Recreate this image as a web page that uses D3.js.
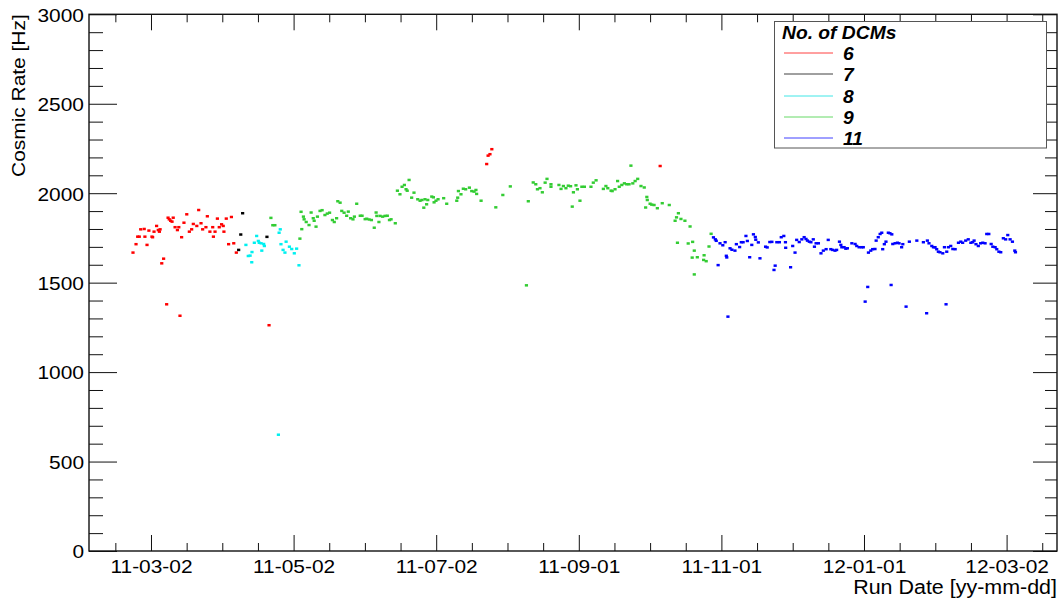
<!DOCTYPE html>
<html>
<head>
<meta charset="utf-8">
<script src="https://cdn.jsdelivr.net/npm/d3@7"></script>
<style>
  html, body { margin: 0; padding: 0; background: #fff; }
  svg { display: block; font-family: "Liberation Sans", Arial, Helvetica, sans-serif; }
</style>
</head>
<body>
<svg id="chart" width="1064" height="600"></svg>
<script>
// Run day is counted in days from 2011-01-01 (UTC); rate is the cosmic rate in Hz.

// 6 DCMs
const dcm6Day = [
  52.3, 53.6, 54.3, 55.0, 55.6, 57.1, 57.4, 58.3, 59.1, 60.4,
  60.7, 61.3, 62.4, 63.1, 63.6, 63.9, 64.6, 65.4, 66.7, 67.3,
  67.8, 68.4, 69.0, 69.5, 70.3, 71.3, 71.9, 72.4, 73.1, 74.1,
  75.3, 76.4, 77.4, 78.1, 79.6, 80.4, 81.4, 82.1, 83.5, 84.1,
  85.2, 86.4, 86.7, 87.4, 88.4, 89.2, 90.2, 90.9, 91.2, 92.2,
  93.2, 94.4, 95.4, 96.5, 110.5, 203.6, 204.2, 205.0, 205.8, 277.8
];
const dcm6Rate = [
  1668, 1715, 1757, 1757, 1798, 1800, 1757, 1711, 1791, 1757,
  1754, 1785, 1817, 1794, 1785, 1798, 1608, 1634, 1379, 1863,
  1854, 1846, 1841, 1863, 1810, 1794, 1810, 1315, 1754, 1835,
  1882, 1785, 1798, 1828, 1817, 1906, 1832, 1798, 1810, 1871,
  1785, 1810, 1757, 1785, 1858, 1810, 1826, 1817, 1785, 1858,
  1715, 1867, 1720, 1668, 1262, 2163, 2210, 2218, 2246, 2152
];

// 7 DCMs
const dcm7Day  = [97.5, 98.4, 99.2, 109.6];
const dcm7Rate = [1683, 1769, 1888, 1756];

// 8 DCMs
const dcm8Day = [
  100.6, 101.6, 102.4, 103.1, 103.2, 104.2, 105.2, 105.9, 106.3, 107.1,
  107.4, 108.2, 108.5, 114.5, 114.8, 115.3, 115.6, 116.5, 117.3, 117.8,
  119.2, 120.2, 121.3, 122.3, 123.3
];
const dcm8Rate = [
  1711, 1649, 1651, 1614, 1671, 1723, 1761, 1733, 1723, 1720,
  1679, 1716, 1705, 650, 1779, 1798, 1715, 1683, 1668, 1729,
  1701, 1688, 1664, 1690, 1597
];

// 9 DCMs
const dcm9Day = [
  111.3, 112.1, 113.0, 123.7, 124.5, 124.2, 125.2, 125.5, 126.4, 127.6,
  128.5, 129.4, 129.8, 130.6, 131.2, 132.3, 133.2, 134.4, 135.4, 136.4,
  137.6, 138.4, 139.4, 139.9, 140.9, 141.6, 142.6, 143.7, 144.4, 145.4,
  146.4, 147.0, 148.0, 149.5, 150.3, 151.6, 152.3, 153.3, 154.3, 155.5,
  156.3, 156.6, 157.5, 158.0, 159.1, 160.1, 161.1, 162.0, 162.7, 164.5,
  165.4, 166.5, 167.4, 168.4, 169.1, 169.6, 170.4, 171.5, 172.5, 174.1,
  175.1, 175.9, 176.7, 177.2, 177.9, 178.4, 180.1, 180.8, 181.1, 181.9,
  182.8, 185.2, 186.5, 190.8, 191.2, 191.5, 192.6, 193.6, 194.6, 196.2,
  197.2, 198.2, 199.0, 199.3, 201.2, 207.5, 210.5, 213.7, 220.6, 221.4,
  223.5, 224.6, 225.3, 226.4, 227.4, 228.6, 229.4, 231.1, 231.1, 234.5,
  235.4, 236.4, 237.5, 238.5, 239.5, 240.2, 240.7, 241.8, 242.4, 243.5,
  244.3, 245.4, 248.2, 249.2, 250.4, 253.5, 254.6, 255.4, 256.8, 257.3,
  258.5, 259.6, 260.3, 261.4, 262.5, 263.5, 264.5, 265.3, 266.1, 267.1,
  268.2, 269.6, 271.0, 271.6, 272.1, 272.3, 273.5, 274.2, 275.2, 276.6,
  278.7, 281.7, 284.2, 284.8, 285.6, 286.7, 288.4, 290.6, 285.2, 289.8,
  291.7, 292.4, 291.5, 293.7, 296.6, 296.4, 297.5, 292.4, 298.7, 299.6
];
const dcm9Rate = [
  1862, 1821, 1821, 1746, 1799, 1896, 1869, 1854, 1839, 1822,
  1892, 1860, 1846, 1813, 1869, 1901, 1905, 1878, 1886, 1891,
  1850, 1839, 1860, 1955, 1947, 1901, 1891, 1874, 1897, 1860,
  1854, 1869, 1941, 1874, 1874, 1855, 1857, 1853, 1850, 1807,
  1892, 1873, 1839, 1873, 1869, 1873, 1874, 1850, 1854, 1832,
  2014, 1994, 2036, 2046, 2022, 2014, 2074, 1975, 2003, 1966,
  1958, 1962, 1919, 1966, 1938, 1962, 1981, 1977, 1949, 1958,
  1966, 1972, 1941, 1958, 1975, 2012, 1994, 2025, 2022, 2031,
  2012, 2009, 2018, 1996, 1958, 1921, 1990, 2038, 1485, 1955,
  2060, 2050, 2022, 2028, 2005, 2059, 2080, 2050, 2036, 2046,
  2024, 2040, 2028, 2042, 2039, 1925, 2005, 2044, 2022, 1958,
  2036, 2036, 2036, 2059, 2072, 2024, 2040, 2028, 2014, 2012,
  2022, 2068, 2036, 2046, 2055, 2050, 2050, 2154, 2055, 2068,
  2080, 2040, 2032, 1920, 1979, 1962, 1941, 1936, 1934, 1916,
  1944, 1934, 1846, 1865, 1888, 1856, 1846, 1814, 1723, 1719,
  1728, 1679, 1640, 1642, 1653, 1627, 1620, 1546, 1702, 1773
];

// 11 DCMs
const dcm11Day = [
  300.6, 301.4, 301.8, 302.6, 303.4, 304.6, 305.6, 306.1, 306.3, 306.8,
  307.7, 308.5, 309.8, 310.4, 311.8, 312.5, 313.3, 314.5, 315.1, 316.1,
  317.0, 317.7, 318.5, 318.7, 319.8, 320.5, 322.9, 323.6, 324.7, 325.6,
  326.5, 327.0, 327.7, 328.8, 329.6, 330.7, 331.4, 331.5, 333.6, 334.5,
  335.5, 336.2, 337.3, 338.4, 339.4, 340.2, 340.8, 341.6, 342.3, 343.3,
  343.8, 344.5, 345.5, 346.6, 347.6, 348.8, 349.7, 350.8, 351.6, 352.6,
  353.3, 354.5, 355.1, 355.5, 356.5, 357.2, 357.9, 359.8, 361.2, 361.9,
  362.9, 364.0, 364.7, 365.5, 366.6, 366.9, 367.9, 368.7, 369.7, 370.2,
  371.1, 371.9, 372.6, 373.0, 373.7, 374.4, 375.4, 376.1, 376.9, 376.6,
  377.3, 378.3, 379.3, 380.0, 381.1, 381.6, 383.0, 384.4, 387.6, 390.4,
  391.8, 392.1, 392.8, 394.0, 394.7, 395.4, 396.1, 396.8, 397.5, 398.7,
  399.4, 400.1, 400.4, 401.1, 402.1, 403.0, 404.0, 405.4, 406.4, 407.2,
  408.5, 409.6, 410.7, 411.5, 412.1, 412.9, 413.9, 414.9, 415.8, 416.8,
  417.5, 418.4, 419.4, 420.1, 421.1, 421.8, 422.7, 423.5, 424.6, 425.6,
  426.5, 427.5, 428.5, 429.5, 429.8
];
const dcm11Rate = [
  1753, 1742, 1734, 1598, 1720, 1709, 1726, 1650, 1641, 1310,
  1692, 1684, 1679, 1715, 1699, 1726, 1726, 1761, 1733, 1642,
  1711, 1770, 1755, 1740, 1725, 1636, 1701, 1697, 1727, 1728,
  1571, 1595, 1726, 1726, 1754, 1761, 1726, 1695, 1586, 1705,
  1668, 1739, 1727, 1742, 1754, 1744, 1735, 1729, 1726, 1742,
  1701, 1720, 1720, 1664, 1679, 1687, 1739, 1687, 1683, 1679,
  1683, 1729, 1711, 1698, 1698, 1690, 1692, 1720, 1716, 1705,
  1698, 1698, 1698, 1394, 1476, 1668, 1679, 1687, 1688, 1735,
  1754, 1772, 1779, 1687, 1715, 1729, 1779, 1776, 1770, 1487,
  1716, 1720, 1723, 1720, 1698, 1715, 1366, 1729, 1735, 1726,
  1329, 1735, 1720, 1705, 1698, 1698, 1687, 1673, 1670, 1664,
  1698, 1379, 1673, 1698, 1705, 1688, 1687, 1723, 1729, 1723,
  1735, 1742, 1723, 1726, 1735, 1715, 1705, 1720, 1723, 1720,
  1772, 1772, 1716, 1701, 1698, 1687, 1673, 1670, 1748, 1742,
  1766, 1742, 1729, 1679, 1670
];

// Axis ticks: labelled dates every 61 days from 2011-03-02, rate ticks every 500 Hz
const dateTickDays = [60, 121, 182, 243, 304, 365, 426];
const rateTicks = [0, 500, 1000, 1500, 2000, 2500, 3000];

const legendTitle = "No. of DCMs";
const series = [
  { label: "6",  color: "#ff0000", key: "#ff0000", day: dcm6Day,  rate: dcm6Rate },
  { label: "7",  color: "#000000", key: "#000000", day: dcm7Day,  rate: dcm7Rate },
  { label: "8",  color: "#00f0f0", key: "#00dede", day: dcm8Day,  rate: dcm8Rate },
  { label: "9",  color: "#33cc33", key: "#33cc33", day: dcm9Day,  rate: dcm9Rate },
  { label: "11", color: "#0000ff", key: "#0000ff", day: dcm11Day, rate: dcm11Rate }
];

// ---- layout ----
const frame = { left: 89, right: 1057, top: 14.3, bottom: 551 };
const DAY_MS = 864e5;
const epoch = Date.UTC(2011, 0, 1);
const toDate = d => new Date(epoch + d * DAY_MS);

const x = d3.scaleUtc()
  .domain([toDate(33.48), toDate(447.56)])
  .range([frame.left, frame.right]);
const y = d3.scaleLinear()
  .domain([0, 3000])
  .range([frame.bottom, frame.top]);

const svg = d3.select("#chart");
const fmt = d3.utcFormat("%y-%m-%d");

// Widen glyph runs a little (the plot's Helvetica is broader than Liberation Sans)
function widen(sel, k) {
  sel.each(function () {
    const L = this.getComputedTextLength();
    if (L > 0) {
      this.setAttribute("textLength", (L * k).toFixed(1));
      this.setAttribute("lengthAdjust", "spacingAndGlyphs");
    }
  });
}

const majorDates = dateTickDays.map(toDate);
const [d0, d1] = x.domain();
const minorDates = d3.range(-8, 40)
  .map(k => toDate(dateTickDays[0] + 15.25 * k))
  .filter((d, i) => d >= d0 && d <= d1 && ((i - 8) % 4 !== 0));
const minorRates = d3.range(0, 3001, 100).filter(v => v % 500 !== 0);

const tickColor = "#111";
function styleAxis(g) {
  g.select(".domain").remove();
  g.selectAll(".tick line").attr("stroke", tickColor).attr("stroke-width", 1);
}

// bottom axis with date labels
const xAxisG = svg.append("g")
  .attr("transform", `translate(0,${frame.bottom})`)
  .call(d3.axisBottom(x).tickValues(majorDates).tickFormat(fmt)
    .tickSizeInner(-16).tickSizeOuter(0).tickPadding(8.5))
  .call(styleAxis);
xAxisG.selectAll("text")
  .attr("fill", "#000")
  .style("font-size", "19px")
  .attr("class", "w");
svg.append("g")
  .attr("transform", `translate(0,${frame.bottom})`)
  .call(d3.axisBottom(x).tickValues(minorDates).tickFormat("")
    .tickSizeInner(-8).tickSizeOuter(0))
  .call(styleAxis);

// top axis, ticks only
svg.append("g")
  .attr("transform", `translate(0,${frame.top})`)
  .call(d3.axisTop(x).tickValues(majorDates).tickFormat("")
    .tickSizeInner(-16).tickSizeOuter(0))
  .call(styleAxis);
svg.append("g")
  .attr("transform", `translate(0,${frame.top})`)
  .call(d3.axisTop(x).tickValues(minorDates).tickFormat("")
    .tickSizeInner(-8).tickSizeOuter(0))
  .call(styleAxis);

// left axis with rate labels
const yAxisG = svg.append("g")
  .attr("transform", `translate(${frame.left},0)`)
  .call(d3.axisLeft(y).tickValues(rateTicks).tickFormat(d3.format("d"))
    .tickSizeInner(-28).tickSizeOuter(0).tickPadding(5))
  .call(styleAxis);
yAxisG.selectAll("text")
  .attr("fill", "#000")
  .attr("dy", "0.36em")
  .style("font-size", "19px")
  .attr("class", "w");
svg.append("g")
  .attr("transform", `translate(${frame.left},0)`)
  .call(d3.axisLeft(y).tickValues(minorRates).tickFormat("")
    .tickSizeInner(-14).tickSizeOuter(0))
  .call(styleAxis);

// right axis, ticks only
svg.append("g")
  .attr("transform", `translate(${frame.right},0)`)
  .call(d3.axisRight(y).tickValues(rateTicks).tickFormat("")
    .tickSizeInner(-24).tickSizeOuter(0))
  .call(styleAxis);
svg.append("g")
  .attr("transform", `translate(${frame.right},0)`)
  .call(d3.axisRight(y).tickValues(minorRates).tickFormat("")
    .tickSizeInner(-12).tickSizeOuter(0))
  .call(styleAxis);

// markers
const markW = 3.2, markH = 2.5;
series.forEach(s => {
  const pts = s.day.map((d, i) => ({ date: toDate(d), rate: s.rate[i] }));
  svg.append("g")
    .attr("fill", s.color)
    .selectAll("rect")
    .data(pts)
    .join("rect")
    .attr("x", p => x(p.date) - markW / 2)
    .attr("y", p => y(p.rate) - markH / 2)
    .attr("width", markW)
    .attr("height", markH);
});

// frame
svg.append("rect")
  .attr("x", frame.left).attr("y", frame.top)
  .attr("width", frame.right - frame.left)
  .attr("height", frame.bottom - frame.top)
  .attr("fill", "none")
  .attr("stroke", "#111")
  .attr("stroke-width", 1.4);

// axis titles
svg.append("text")
  .attr("class", "w")
  .attr("x", frame.right).attr("y", 594)
  .attr("text-anchor", "end")
  .style("font-size", "19.5px")
  .attr("fill", "#000")
  .text("Run Date [yy-mm-dd]");

svg.append("text")
  .attr("class", "w")
  .attr("transform", `translate(25,${frame.top}) rotate(-90)`)
  .attr("text-anchor", "end")
  .style("font-size", "19px")
  .attr("fill", "#000")
  .text("Cosmic Rate [Hz]");

// legend
const legend = svg.append("g");
legend.append("rect")
  .attr("x", 774.5).attr("y", 21.5)
  .attr("width", 272).attr("height", 126.5)
  .attr("fill", "#fff")
  .attr("stroke", "#555")
  .attr("stroke-width", 1);
legend.append("text")
  .attr("class", "w")
  .attr("x", 782).attr("y", 38.5)
  .style("font-size", "17.5px")
  .style("font-weight", "bold")
  .style("font-style", "italic")
  .attr("fill", "#000")
  .text(legendTitle);
const rowY = d3.scalePoint().domain(series.map(s => s.label)).range([53, 138]);
series.forEach(s => {
  const yy = Math.round(rowY(s.label));
  legend.append("line")
    .attr("x1", 784).attr("x2", 833)
    .attr("y1", yy).attr("y2", yy)
    .attr("stroke", s.key)
    .attr("stroke-opacity", 0.75)
    .attr("stroke-width", 1);
  legend.append("text")
    .attr("class", "w")
    .attr("x", 843).attr("y", yy + 6.5)
    .style("font-size", "17.5px")
    .style("font-weight", "bold")
    .style("font-style", "italic")
    .attr("fill", "#000")
    .text(s.label);
});

widen(svg.selectAll("text.w"), 1.1);
</script>
</body>
</html>
